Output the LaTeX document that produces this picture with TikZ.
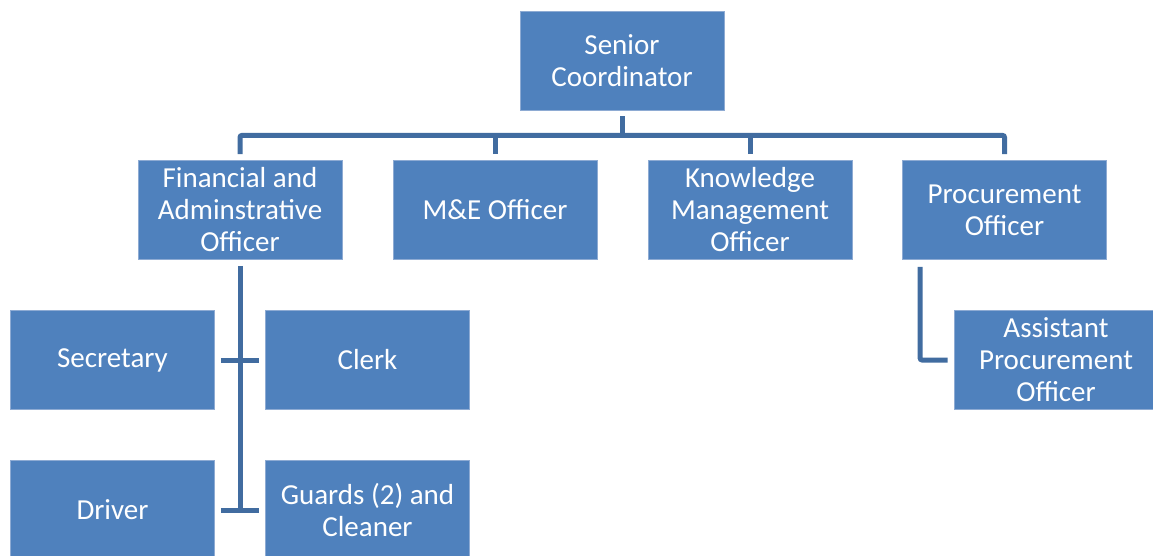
\documentclass[tikz,border=0pt]{standalone}
\usepackage{fontspec}
\setmainfont{Carlito}
\begin{document}
\begin{tikzpicture}[x=1pt,y=-1pt,
  box/.style={draw=boxedge, line width=0.8pt, fill=boxfill, text=white,
    minimum width=204pt, minimum height=99pt, inner sep=0pt, align=center,
    font=\fontsize{29}{32}\selectfont},
  conn/.style={draw=linecol, line width=5pt, rounded corners=2pt}]
\definecolor{boxfill}{HTML}{4F81BD}
\definecolor{boxedge}{HTML}{8EABD3}
\definecolor{linecol}{HTML}{416CA0}
\useasboundingbox (0,0) rectangle (1153,555);

% top level
\node[box] (sen) at (622,60.5) {Senior\\Coordinator};

% second level
\node[box] (fin) at (240,210) {Financial and\\Adminstrative\\Officer};
\node[box] (mne) at (495,210) {M\&E Officer};
\node[box] (kmo) at (750,210) {Knowledge\\Management\\Officer};
\node[box] (pro) at (1004.5,210) {Procurement\\Officer};

% third level
\node[box] (sec) at (112.5,360) {Secretary};
\node[box] (clk) at (367.5,360) {Clerk};
\node[box] (drv) at (112.5,510) {Driver};
\node[box] (grd) at (367.5,510) {Guards (2) and\\Cleaner};
\node[box] (ast) at (1056,360) {Assistant\\Procurement\\Officer};

% bus from the coordinator to the officers
\coordinate (bus) at ([yshift=-25]sen.south);
\draw[conn] ([yshift=-6]sen.south) -- (bus);
\draw[conn] ([yshift=6]fin.north) |- (bus) -| ([yshift=6]pro.north);
\draw[conn] ([yshift=6]mne.north) -- (mne.north |- bus);
\draw[conn] ([yshift=6]kmo.north) -- (kmo.north |- bus);

% staff under the financial and administrative officer
\draw[conn, rounded corners=0pt] ([yshift=-6]fin.south) -- (fin.south |- drv.east);
\draw[conn] ([xshift=6]sec.east) -- ([xshift=-6]clk.west);
\draw[conn] ([xshift=6]drv.east) -- ([xshift=-6]grd.west);

% assistant under procurement
\draw[conn] ([xshift=18,yshift=-7]pro.south west) |- ([xshift=-6]ast.west);
\end{tikzpicture}
\end{document}
